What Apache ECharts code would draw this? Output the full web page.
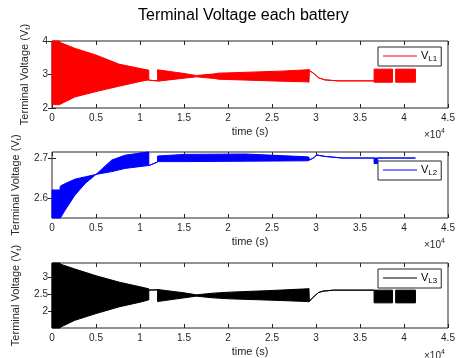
<!DOCTYPE html>
<html><head><meta charset="utf-8">
<script src="https://cdn.jsdelivr.net/npm/echarts@6/dist/echarts.min.js"></script>
<style>html,body{margin:0;padding:0;background:#fff}#c{width:459px;height:358px}</style>
</head><body><div id="c"></div>
<script>
// ---------- data (time in s, voltage envelopes in V; null = gap) ----------
const xTickValues = [0,5000,10000,15000,20000,25000,30000,35000,40000,45000];
const xTickLabels = ['0','0.5','1','1.5','2','2.5','3','3.5','4','4.5'];

const t1  = [0,800,1000,2600,5000,7600,10000,11000,11001,11999,12000,15000,16400,18500,18900,22500,26000,29000,29200,29250,29800,30300,31000,32500,36599,36600,38700,38800,39050,41300];
const up1 = [4.0,4.0,3.95,3.78,3.58,3.31,3.18,3.13,2.83,2.81,3.14,3.03,2.97,3.02,3.04,3.07,3.10,3.14,3.16,3.12,3.02,2.90,2.84,2.81,2.81,3.16,3.16,null,3.16,3.16];
const lo1 = [2.1,2.1,2.12,2.33,2.49,2.65,2.79,2.84,2.83,2.81,2.80,2.89,2.93,2.88,2.86,2.83,2.80,2.78,2.77,3.12,3.02,2.90,2.84,2.81,2.81,2.77,2.77,null,2.77,2.77];

const t2  = [0,900,950,1500,2600,3800,5000,6800,8300,10900,11000,11001,11999,12000,15000,22000,29000,29200,29250,29700,30100,31000,33000,36599,36600,37000,37001,41300];
const up2 = [2.62,2.62,2.630,2.636,2.647,2.653,2.659,2.695,2.707,2.715,2.715,2.681,2.690,2.705,2.709,2.710,2.703,2.702,2.695,2.700,2.7075,2.704,2.700,2.700,2.700,2.700,2.700,2.700];
const lo2 = [2.55,2.55,2.55,2.570,2.607,2.637,2.659,2.666,2.674,2.681,2.681,2.681,2.690,2.691,2.691,2.692,2.693,2.694,2.695,2.700,2.7075,2.704,2.700,2.700,2.686,2.686,2.700,2.700];

const t3  = [0,900,1000,2600,5000,7600,10000,11000,11001,11999,12000,15000,16400,18300,20200,25000,29000,29200,29250,29800,30300,30800,32000,36599,36600,38700,38800,39050,41300];
const up3 = [3.44,3.44,3.40,3.26,3.06,2.87,2.73,2.67,2.63,2.64,2.65,2.55,2.49,2.54,2.57,2.62,2.67,2.68,2.30,2.45,2.56,2.60,2.63,2.63,2.63,2.63,null,2.63,2.63];
const lo3 = [1.5,1.5,1.53,1.73,1.93,2.13,2.27,2.34,2.63,2.64,2.29,2.40,2.45,2.40,2.37,2.33,2.29,2.28,2.30,2.45,2.56,2.60,2.63,2.63,2.25,2.25,null,2.25,2.25];

const seriesNames = ['VL1','VL2','VL3'];
const yTicks1 = [2,3,4],       yLabels1 = ['2','3','4'];
const yTicks2 = [2.6,2.7],     yLabels2 = ['2.6','2.7'];
const yTicks3 = [2,2.5,3],     yLabels3 = ['2','2.5','3'];

// ---------- layout ----------
const FONT = '"Liberation Sans", Arial, Helvetica, sans-serif';
const AX = '#262626';
const panels = [
  {t:t1, up:up1, lo:lo1, color:'#ff0000', name:seriesNames[0], min:2,    max:4,     ticks:yTicks1, labels:yLabels1, top:41,  h:67, gap:13, legTop:47},
  {t:t2, up:up2, lo:lo2, color:'#0000ff', name:seriesNames[1], min:2.55, max:2.715, ticks:yTicks2, labels:yLabels2, top:152, h:66, gap:24, legTop:161},
  {t:t3, up:up3, lo:lo3, color:'#000000', name:seriesNames[2], min:1.5,  max:3.44,  ticks:yTicks3, labels:yLabels3, top:263, h:66, gap:22, legTop:269}
];

function segmentsOf(up){
  const out=[]; let cur=[];
  for (let i=0;i<up.length;i++){
    if (up[i]==null){ if(cur.length) out.push(cur); cur=[]; }
    else cur.push(i);
  }
  if (cur.length) out.push(cur);
  return out;
}

const grid=[], xAxis=[], yAxis=[], series=[], legend=[], graphic=[];
const tickStyle = {lineStyle:{color:AX, width:1}};
panels.forEach((p,k)=>{
  grid.push({left:52, right:11, top:p.top, height:p.h, show:true, borderColor:AX, borderWidth:1, backgroundColor:'#fff'});
  xAxis.push({gridIndex:k, type:'value', min:0, max:45000, interval:5000, position:'bottom',
    axisLine:{show:false}, splitLine:{show:false},
    axisTick:{inside:true, length:4, ...tickStyle},
    axisLabel:{margin:5, fontSize:10, color:AX, fontFamily:FONT,
      formatter:(v)=>{const i=xTickValues.indexOf(v); return i>=0?xTickLabels[i]:'';}},
    name:'time (s)', nameLocation:'middle', nameGap:18,
    nameTextStyle:{fontSize:11, color:AX, fontFamily:FONT}});
  xAxis.push({gridIndex:k, type:'value', min:0, max:45000, interval:5000, position:'top',
    axisLine:{show:false}, splitLine:{show:false}, axisLabel:{show:false},
    axisTick:{inside:true, length:4, ...tickStyle}});
  yAxis.push({gridIndex:k, type:'value', min:p.min, max:p.max, position:'left',
    axisLine:{show:false}, splitLine:{show:false},
    axisTick:{inside:true, length:4, customValues:p.ticks, ...tickStyle},
    axisLabel:{customValues:p.ticks, margin:4, fontSize:10, color:AX, fontFamily:FONT,
      formatter:(v)=>{const i=p.ticks.indexOf(v); return i>=0?p.labels[i]:'';}},
    name:'{n|Terminal Voltage (V}{s|t}{n|)}', nameLocation:'middle', nameRotate:90, nameGap:p.gap,
    nameTextStyle:{rich:{
      n:{fontSize:11, color:AX, fontFamily:FONT, lineHeight:14},
      s:{fontSize:8, color:AX, fontFamily:FONT, lineHeight:8, verticalAlign:'bottom'}}}});
  yAxis.push({gridIndex:k, type:'value', min:p.min, max:p.max, position:'right',
    axisLine:{show:false}, splitLine:{show:false}, axisLabel:{show:false},
    axisTick:{inside:true, length:4, customValues:p.ticks, ...tickStyle}});

  const segs = segmentsOf(p.up);
  // filled envelope of the fast oscillation
  series.push({
    type:'custom', name:p.name, xAxisIndex:2*k, yAxisIndex:2*k,
    itemStyle:{color:p.color}, animation:false, silent:true,
    data: segs.map(s=>[p.t[s[0]], p.lo[s[0]]]),
    renderItem:(params, api)=>{
      const s = segs[params.dataIndex];
      const pts = s.map(i=>api.coord([p.t[i], p.up[i]]))
        .concat(s.slice().reverse().map(i=>api.coord([p.t[i], p.lo[i]])));
      return {type:'polygon', shape:{points:pts},
        style:{fill:p.color, stroke:p.color, lineWidth:1}};
    }
  });
  // legend: line key drawn as a rich-text token
  legend.push({data:[p.name], left:378, top:p.legTop, orient:'vertical',
    padding:[3,4,3,0], borderColor:AX, borderWidth:1, backgroundColor:'#fff',
    itemWidth:0, itemHeight:0, icon:'rect', itemStyle:{opacity:0}, selectedMode:false,
    formatter:(n)=>'{l|}{g|}{v|V}{s|'+n.slice(1)+'}',
    textStyle:{rich:{
      l:{width:34, height:1, lineHeight:1, backgroundColor:p.color, verticalAlign:'middle'},
      g:{width:4},
      v:{fontSize:11, color:'#000', fontFamily:FONT, lineHeight:14},
      s:{fontSize:8, color:'#000', fontFamily:FONT, lineHeight:8, verticalAlign:'bottom'}}}});
  const yb = p.top + p.h;
  graphic.push({type:'text', left:424, top:yb+20, z:100,
    style:{text:'{a|×10}{b|4}', rich:{
      a:{fontSize:10, fill:AX, fontFamily:FONT, lineHeight:14},
      b:{fontSize:7, fill:AX, fontFamily:FONT, lineHeight:7, verticalAlign:'top'}}}});
});

const chart = echarts.init(document.getElementById('c'), null, {renderer:'canvas'});
chart.setOption({
  animation:false,
  backgroundColor:'#fff',
  title:{text:'Terminal Voltage each battery', left:138, top:8, padding:0,
    textStyle:{fontSize:16, fontWeight:'normal', color:'#000', fontFamily:FONT}},
  grid, xAxis, yAxis, series, legend, graphic
});
</script></body></html>
